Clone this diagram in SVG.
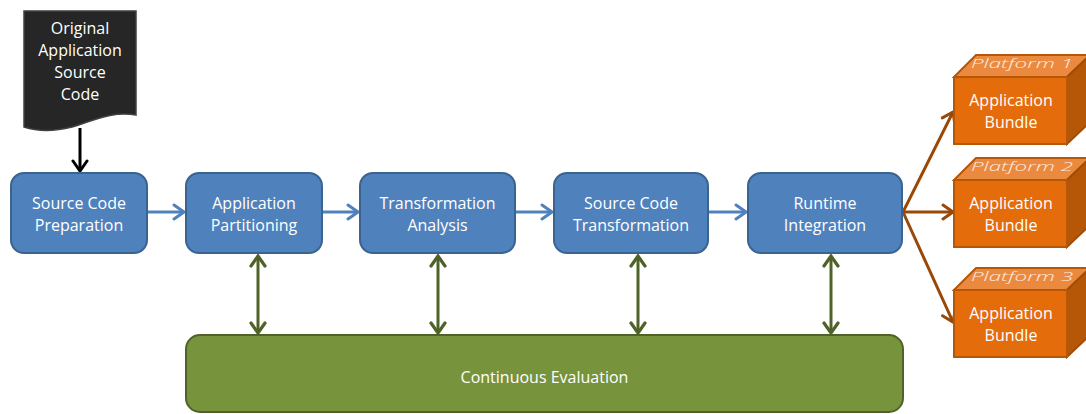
<svg xmlns="http://www.w3.org/2000/svg" width="1086" height="414" viewBox="0 0 1086 414">
<style>
.box{fill:#4F81BD;stroke:#3A6390;stroke-width:2}
.t{font-family:"Open Sans","Liberation Sans",sans-serif;font-size:16px;fill:#fff;text-anchor:middle}
.blue{stroke:#4F81BD;stroke-width:3;fill:none}
.green{stroke:#4F6228;stroke-width:3;fill:none}
.brown{stroke:#984807;stroke-width:3;fill:none}
.front{fill:#E46C0A;stroke:#B65708;stroke-width:2}
.top{fill:#EB8A3E;stroke:#B65708;stroke-width:2}
.side{fill:#B65708;stroke:#A04D07;stroke-width:2}
.pl{font-family:"Open Sans","Liberation Sans",sans-serif;font-style:italic;font-weight:300;font-size:12.5px;fill:#fff;opacity:0.85}
</style>
<defs>
<marker id="aBlue" markerUnits="userSpaceOnUse" markerWidth="15" markerHeight="18" viewBox="0 0 15 18" refX="13" refY="9" orient="auto-start-reverse"><path d="M3,2 L13,9 L3,16" fill="none" stroke="#4F81BD" stroke-width="3" stroke-linecap="round"/></marker>
<marker id="aGreen" markerUnits="userSpaceOnUse" markerWidth="15" markerHeight="18" viewBox="0 0 15 18" refX="13" refY="9" orient="auto-start-reverse"><path d="M3,2 L13,9 L3,16" fill="none" stroke="#4F6228" stroke-width="3.2" stroke-linecap="round"/></marker>
<marker id="aBrown" markerUnits="userSpaceOnUse" markerWidth="15" markerHeight="18" viewBox="0 0 15 18" refX="13" refY="9" orient="auto-start-reverse"><path d="M3,2 L13,9 L3,16" fill="none" stroke="#984807" stroke-width="3" stroke-linecap="round"/></marker>
<marker id="aBlack" markerUnits="userSpaceOnUse" markerWidth="15" markerHeight="18" viewBox="0 0 15 18" refX="13" refY="9" orient="auto-start-reverse"><path d="M3,2 L13,9 L3,16" fill="none" stroke="#000" stroke-width="3" stroke-linecap="round"/></marker>
</defs>

<g id="connectors">
<line x1="80" y1="128" x2="80" y2="171" stroke="#000" stroke-width="3" marker-end="url(#aBlack)"/>
<line class="blue" x1="148" y1="212" x2="184" y2="212" marker-end="url(#aBlue)"/>
<line class="blue" x1="323" y1="212" x2="358" y2="212" marker-end="url(#aBlue)"/>
<line class="blue" x1="516" y1="212" x2="552" y2="212" marker-end="url(#aBlue)"/>
<line class="blue" x1="709" y1="212" x2="746" y2="212" marker-end="url(#aBlue)"/>
<line class="green" x1="258" y1="256" x2="258" y2="333" marker-start="url(#aGreen)" marker-end="url(#aGreen)"/>
<line class="green" x1="438" y1="256" x2="438" y2="333" marker-start="url(#aGreen)" marker-end="url(#aGreen)"/>
<line class="green" x1="638" y1="256" x2="638" y2="333" marker-start="url(#aGreen)" marker-end="url(#aGreen)"/>
<line class="green" x1="831" y1="256" x2="831" y2="333" marker-start="url(#aGreen)" marker-end="url(#aGreen)"/>
<line class="brown" x1="903" y1="212" x2="953" y2="112" marker-end="url(#aBrown)"/>
<line class="brown" x1="903" y1="212" x2="953" y2="212" marker-end="url(#aBrown)"/>
<line class="brown" x1="903" y1="212" x2="953" y2="322" marker-end="url(#aBrown)"/>
</g>

<g id="source">
<path d="M24,11 H136 V115 C112,111 95,120 72,127 C52,132 36,131 24,127 Z" fill="#262626" stroke="#404040" stroke-width="1.5"/>
<text class="t" x="80" y="34">Original</text>
<text class="t" x="80" y="56">Application</text>
<text class="t" x="80" y="78">Source</text>
<text class="t" x="80" y="100">Code</text>
</g>

<g id="prep">
<rect class="box" x="11" y="173" width="136" height="80" rx="13"/>
<text class="t" x="79" y="208.5">Source Code</text>
<text class="t" x="79" y="230.5">Preparation</text>
</g>
<g id="partition">
<rect class="box" x="186" y="173" width="136" height="80" rx="13"/>
<text class="t" x="254" y="208.5">Application</text>
<text class="t" x="254" y="230.5">Partitioning</text>
</g>
<g id="analysis">
<rect class="box" x="360" y="173" width="155" height="80" rx="13"/>
<text class="t" x="437.5" y="208.5">Transformation</text>
<text class="t" x="437.5" y="230.5">Analysis</text>
</g>
<g id="transform">
<rect class="box" x="554" y="173" width="154" height="80" rx="13"/>
<text class="t" x="631" y="208.5">Source Code</text>
<text class="t" x="631" y="230.5">Transformation</text>
</g>
<g id="runtime">
<rect class="box" x="748" y="173" width="154" height="80" rx="13"/>
<text class="t" x="825" y="208.5">Runtime</text>
<text class="t" x="825" y="230.5">Integration</text>
</g>

<g id="evaluation">
<rect x="186" y="335" width="717" height="77" rx="14" fill="#77933C" stroke="#4F6228" stroke-width="2"/>
<text class="t" x="544.5" y="383">Continuous Evaluation</text>
</g>

<g id="platform1">
<polygon class="top" points="954,77 976,55 1090,55 1067,77"/>
<polygon class="side" points="1067,77 1090,55 1090,122 1067,144"/>
<rect class="front" x="954" y="77" width="113" height="67"/>
<text class="pl" x="971" y="68" textLength="102" lengthAdjust="spacingAndGlyphs">Platform 1</text>
<text class="t" x="1011" y="106">Application</text>
<text class="t" x="1011" y="128">Bundle</text>
</g>
<g id="platform2">
<polygon class="top" points="954,180 976,158 1090,158 1067,180"/>
<polygon class="side" points="1067,180 1090,158 1090,225 1067,247"/>
<rect class="front" x="954" y="180" width="113" height="67"/>
<text class="pl" x="971" y="171" textLength="102" lengthAdjust="spacingAndGlyphs">Platform 2</text>
<text class="t" x="1011" y="209">Application</text>
<text class="t" x="1011" y="231">Bundle</text>
</g>
<g id="platform3">
<polygon class="top" points="954,290 976,268 1090,268 1067,290"/>
<polygon class="side" points="1067,290 1090,268 1090,335 1067,357"/>
<rect class="front" x="954" y="290" width="113" height="67"/>
<text class="pl" x="971" y="281" textLength="102" lengthAdjust="spacingAndGlyphs">Platform 3</text>
<text class="t" x="1011" y="319">Application</text>
<text class="t" x="1011" y="341">Bundle</text>
</g>
</svg>
